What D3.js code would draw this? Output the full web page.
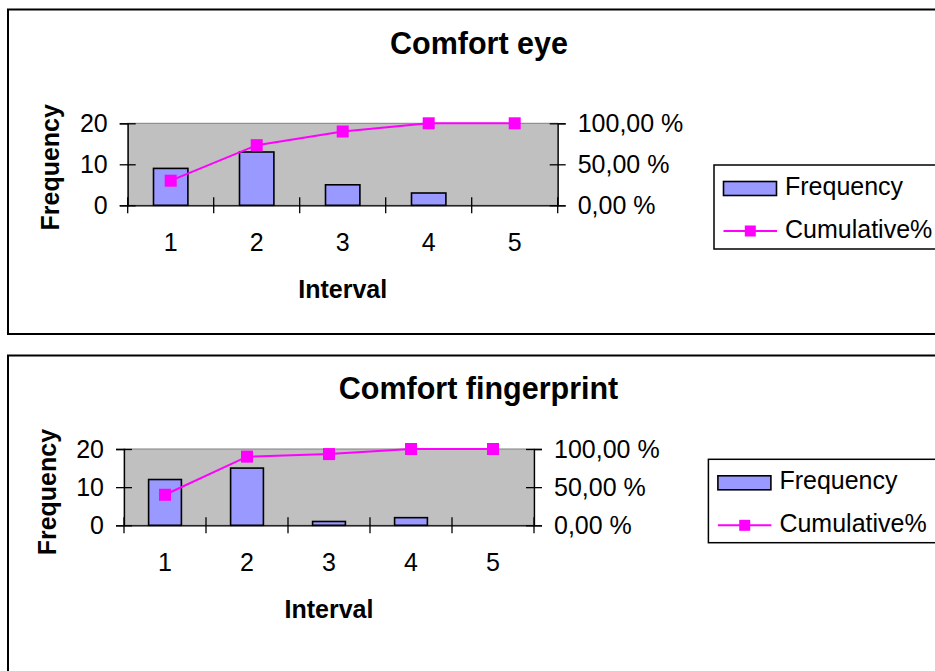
<!DOCTYPE html>
<html>
<head>
<meta charset="utf-8">
<script src="https://cdn.jsdelivr.net/npm/d3@7/dist/d3.min.js"></script>
<style>
  html, body { margin: 0; padding: 0; background: #ffffff; }
  svg { display: block; font-family: "Liberation Sans", Arial, sans-serif; }
</style>
</head>
<body>
<svg id="chart" width="935" height="671"></svg>
<script>
// ---- data ----
const categories = ["1", "2", "3", "4", "5"];
const eyeFrequency = [9, 13, 5, 3, 0];
const eyeCumulative = [30, 73.33, 90, 100, 100];
const fingerFrequency = [12, 15, 1, 2, 0];
const fingerCumulative = [40, 90, 93.33, 100, 100];
const frequencyTicks = [0, 10, 20];
const percentTicks = [0, 50, 100];
const percentTickLabels = ["0,00 %", "50,00 %", "100,00 %"];
const chartTitles = ["Comfort eye", "Comfort fingerprint"];
const xAxisTitle = "Interval";
const yAxisTitle = "Frequency";
const legendLabels = ["Frequency", "Cumulative%"];

// ---- layout ----
const layouts = [
  { box: [8, 9.5, 960, 324.5], plot: { left: 127.7, right: 557.7, top: 123.3, bottom: 205.3 },
    titleX: 479, titleY: 54, legend: [714, 165, 240, 84], yTitleDy: 3 },
  { box: [8, 355.5, 960, 340], plot: { left: 124, right: 534, top: 449, bottom: 525.3 },
    titleX: 478.5, titleY: 399.3, legend: [708.4, 459.3, 240, 83.4], yTitleDy: 5 }
];
const series = [
  { freq: eyeFrequency, cum: eyeCumulative },
  { freq: fingerFrequency, cum: fingerCumulative }
];

const svg = d3.select("#chart");
const barFill = "#9999ff", lineColor = "#ff00ff", plotFill = "#c0c0c0";
const mk = 12;

layouts.forEach((L, i) => {
  const S = series[i];
  const g = svg.append("g");
  const P = L.plot;

  // chart area border
  g.append("rect")
    .attr("x", L.box[0]).attr("y", L.box[1])
    .attr("width", L.box[2]).attr("height", L.box[3])
    .attr("fill", "#fff").attr("stroke", "#000").attr("stroke-width", 2);

  // title
  g.append("text")
    .attr("x", L.titleX).attr("y", L.titleY)
    .attr("text-anchor", "middle")
    .attr("font-size", 30.5).attr("font-weight", "bold")
    .text(chartTitles[i]);

  const x = d3.scaleBand().domain(categories).range([P.left, P.right]).paddingInner(0).paddingOuter(0);
  const y = d3.scaleLinear().domain([0, 20]).range([P.bottom, P.top]);
  const y2 = d3.scaleLinear().domain([0, 100]).range([P.bottom, P.top]);

  // plot area
  g.append("rect")
    .attr("x", P.left).attr("y", P.top)
    .attr("width", P.right - P.left).attr("height", P.bottom - P.top)
    .attr("fill", plotFill).attr("stroke", "#808080").attr("stroke-width", 1);

  // bars
  const bw = x.bandwidth() * 0.4;
  g.selectAll(".bar").data(S.freq).enter().append("rect")
    .attr("x", (d, j) => x(categories[j]) + x.bandwidth() / 2 - bw / 2)
    .attr("y", d => y(d))
    .attr("width", bw)
    .attr("height", d => y(0) - y(d))
    .attr("fill", barFill).attr("stroke", "#000").attr("stroke-width", 1.6)
    .attr("display", d => d > 0 ? null : "none");

  // left axis
  const leftAxis = g.append("g").attr("transform", `translate(${P.left},0)`)
    .call(d3.axisLeft(y).tickValues(frequencyTicks).tickSize(8).tickPadding(12));
  leftAxis.select(".domain").attr("stroke", "#000").attr("stroke-width", 1.3);
  leftAxis.selectAll(".tick line").attr("x1", 8).attr("x2", -8).attr("stroke", "#000").attr("stroke-width", 1.3);
  leftAxis.selectAll(".tick text").attr("font-size", 25).attr("font-family", "Liberation Sans, Arial, sans-serif").attr("fill", "#000");

  // right axis
  const rightAxis = g.append("g").attr("transform", `translate(${P.right},0)`)
    .call(d3.axisRight(y2).tickValues(percentTicks).tickSize(8).tickPadding(12)
      .tickFormat((d, j) => percentTickLabels[j]));
  rightAxis.select(".domain").attr("stroke", "#000").attr("stroke-width", 1.3);
  rightAxis.selectAll(".tick line").attr("x1", -8).attr("x2", 8).attr("stroke", "#000").attr("stroke-width", 1.3);
  rightAxis.selectAll(".tick text").attr("font-size", 25).attr("font-family", "Liberation Sans, Arial, sans-serif").attr("fill", "#000");

  // bottom axis
  const bottomAxis = g.append("g").attr("transform", `translate(0,${P.bottom})`)
    .call(d3.axisBottom(x).tickSize(0).tickPadding(28));
  bottomAxis.select(".domain").attr("stroke", "#000").attr("stroke-width", 1.3);
  bottomAxis.selectAll(".tick text").attr("font-size", 25).attr("font-family", "Liberation Sans, Arial, sans-serif").attr("fill", "#000");
  const edges = categories.map(c => x(c)).concat([x(categories[categories.length - 1]) + x.bandwidth()]);
  g.selectAll(".xedge").data(edges).enter().append("line")
    .attr("x1", d => d).attr("x2", d => d)
    .attr("y1", P.bottom - 8).attr("y2", P.bottom + 8)
    .attr("stroke", "#000").attr("stroke-width", 1.3);

  // cumulative line
  const line = d3.line().x((d, j) => x(categories[j]) + x.bandwidth() / 2).y(d => y2(d));
  g.append("path").datum(S.cum).attr("d", line)
    .attr("fill", "none").attr("stroke", lineColor).attr("stroke-width", 2);
  g.selectAll(".mk").data(S.cum).enter().append("rect")
    .attr("x", (d, j) => x(categories[j]) + x.bandwidth() / 2 - mk / 2)
    .attr("y", d => y2(d) - mk / 2)
    .attr("width", mk).attr("height", mk)
    .attr("fill", lineColor);

  // axis titles
  g.append("text")
    .attr("x", (P.left + P.right) / 2).attr("y", P.bottom + 92.4)
    .attr("text-anchor", "middle").attr("font-size", 25).attr("font-weight", "bold")
    .text(xAxisTitle);
  const yc = (P.top + P.bottom) / 2 + L.yTitleDy;
  g.append("text")
    .attr("transform", `translate(${P.left - 68.5},${yc}) rotate(-90)`)
    .attr("text-anchor", "middle").attr("font-size", 25).attr("font-weight", "bold")
    .text(yAxisTitle);

  // legend
  const [lx, ly, lw, lh] = L.legend;
  g.append("rect").attr("x", lx).attr("y", ly).attr("width", lw).attr("height", lh)
    .attr("fill", "#fff").attr("stroke", "#000").attr("stroke-width", 1.5);
  g.append("rect").attr("x", lx + 9.5).attr("y", ly + 16.5).attr("width", 53).attr("height", 14)
    .attr("fill", barFill).attr("stroke", "#000").attr("stroke-width", 1.6);
  g.append("text").attr("x", lx + 71).attr("y", ly + 30).attr("font-size", 25).text(legendLabels[0]);
  const lyLine = ly + 66;
  g.append("line").attr("x1", lx + 9.5).attr("x2", lx + 63).attr("y1", lyLine).attr("y2", lyLine)
    .attr("stroke", lineColor).attr("stroke-width", 2);
  g.append("rect").attr("x", lx + 36.3 - 5.5).attr("y", lyLine - 5.5).attr("width", 11).attr("height", 11)
    .attr("fill", lineColor);
  g.append("text").attr("x", lx + 71).attr("y", ly + 73).attr("font-size", 25).text(legendLabels[1]);
});
</script>
</body>
</html>
